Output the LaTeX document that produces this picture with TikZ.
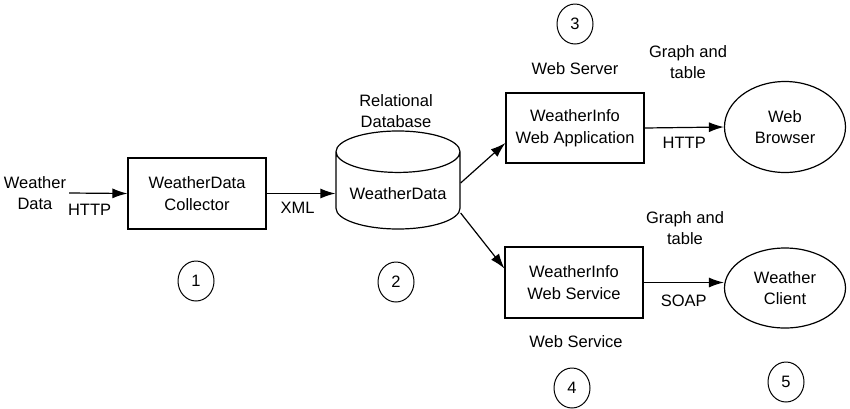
\documentclass[tikz,border=0pt]{standalone}
\usepackage{fontspec}
\setmainfont{Liberation Sans}
\usetikzlibrary{shapes.geometric,arrows.meta}

\tikzset{
    box/.style={draw,line width=1.2pt,minimum width=138pt,minimum height=71pt,align=center},
    client/.style={draw,ellipse,line width=1.2pt,minimum width=121pt,align=center},
    stage/.style={draw,ellipse,line width=1pt,minimum width=36pt,minimum height=40pt,inner sep=0pt},
    txt/.style={align=center,inner sep=1pt},
    flow/.style={-{Latex[length=15pt,width=10pt]},line width=1.2pt}
}

\begin{document}
\begin{tikzpicture}[x=1pt,y=-1pt,font=\fontsize{16.5}{21.5}\selectfont]
    \useasboundingbox (0,0) rectangle (850,408);
    % collector
    \node[txt] (wdata) at (35,193) {Weather\\Data};
    \node[box] (collector) at (197,193.5) {WeatherData\\Collector};
    \node[stage] (s1) at (196,281) {1};
    % database
    \node[draw,cylinder,shape border rotate=90,aspect=0.4,line width=1.2pt,
          minimum width=124pt,minimum height=98pt] (db) at (398,194) {WeatherData};
    \node[txt] (reldb) at (396,111) {Relational\\Database};
    \node[stage] (s2) at (396,282) {2};
    % web server
    \node[box,minimum height=70pt] (webapp) at (575,128) {WeatherInfo\\Web Application};
    \node[txt] (websrv) at (575,69) {Web Server};
    \node[stage] (s3) at (575,24) {3};
    \node[client,minimum height=91pt] (browser) at (785,127) {Web\\Browser};
    \node[txt] (gt1) at (688,62) {Graph and\\table};
    % web service
    \node[box] (websvc) at (574,282.5) {WeatherInfo\\Web Service};
    \node[txt] (wslbl) at (576,342) {Web Service};
    \node[stage] (s4) at (572,388) {4};
    \node[client,minimum height=80pt] (wclient) at (785,288) {Weather\\Client};
    \node[txt] (gt2) at (685,228) {Graph and\\table};
    \node[stage] (s5) at (786,382) {5};

    \draw[flow] ([xshift=2pt]wdata.east) -- (collector.west)
        node[pos=0.35,below=9pt,txt] {HTTP};
    \draw[flow] (collector.east) -- (collector.east -| db.west)
        node[pos=0.45,below=7pt,txt] {XML};
    \draw[flow] ([yshift=11pt]db.east) -- ([yshift=-15pt]webapp.west);
    \draw[flow] ([yshift=-19pt]db.east) -- ([yshift=14pt]websvc.west);
    \draw[flow] (webapp.east) -- (browser.west)
        node[midway,below=8pt,txt] {HTTP};
    \draw[flow] (websvc.east) -- (websvc.east -| wclient.west)
        node[midway,below=11pt,txt] {SOAP};
\end{tikzpicture}
\end{document}
